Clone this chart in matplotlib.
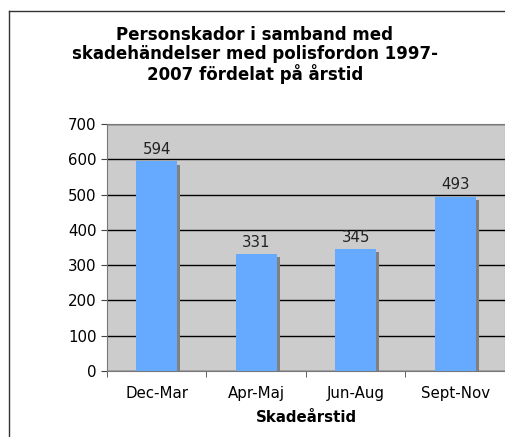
import matplotlib
matplotlib.use('Agg')
import matplotlib.pyplot as plt
import matplotlib.patheffects as pe
from matplotlib.lines import Line2D

seasons = ['Dec-Mar', 'Apr-Maj', 'Jun-Aug', 'Sept-Nov']
injuries = [594, 331, 345, 493]
yticks = [0, 100, 200, 300, 400, 500, 600, 700]

plt.rcParams['font.family'] = ['DejaVu Sans']

fig = plt.figure(figsize=(5.06, 4.37), dpi=100)
fig.patch.set_facecolor('white')

# outer chart frame: only top and left edges are visible
fx, fy = 8.5 / 506, 1 - 10.5 / 437
fig.lines.append(Line2D([fx, 1.0], [fy, fy], transform=fig.transFigure, color='#333333', linewidth=1.0))
fig.lines.append(Line2D([fx, fx], [fy, 0.0], transform=fig.transFigure, color='#333333', linewidth=1.0))

ax = fig.add_axes([107 / 506, 1 - 371 / 437, 398 / 506, 247 / 437])
ax.set_facecolor('#CCCCCC')

x = list(range(len(seasons)))
bars = ax.bar(x, injuries, width=0.41, color='#66AAFF', zorder=3)
for b in bars:
    b.set_path_effects([pe.SimplePatchShadow(offset=(2.3, -2.3), shadow_rgbFace='#808080', alpha=1.0),
                        pe.Normal()])

for xi, v in zip(x, injuries):
    ax.text(xi, v + 13, str(v), ha='center', va='bottom', fontsize=10.8, color='#222222')

ax.set_xlim(-0.5, 3.5)
ax.set_ylim(0, 700)
ax.set_yticks(yticks)
ax.set_xticks(x)
ax.set_xticklabels(seasons, fontsize=10.8)
ax.set_xticks([-0.5, 0.5, 1.5, 2.5, 3.5], minor=True)
ax.tick_params(axis='x', which='major', length=0, pad=11)
ax.tick_params(axis='x', which='minor', length=4, direction='out', color='#444444')
ax.tick_params(axis='y', length=4, direction='out', color='#444444', labelsize=10.8)

ax.yaxis.grid(True, color='black', linewidth=1.0, zorder=1)
ax.set_axisbelow(True)
for s in ['top', 'right', 'left', 'bottom']:
    ax.spines[s].set_color('#777777')

ax.set_xlabel('Skadeårstid', fontsize=10.8, fontweight='bold', labelpad=6)

fig.text(255 / 506, 1 - 55 / 437,
         'Personskador i samband med\nskadehändelser med polisfordon 1997-\n2007 fördelat på årstid',
         ha='center', va='center', fontsize=12, fontweight='bold', linespacing=1.08)

fig.savefig('out.png', dpi=100)
